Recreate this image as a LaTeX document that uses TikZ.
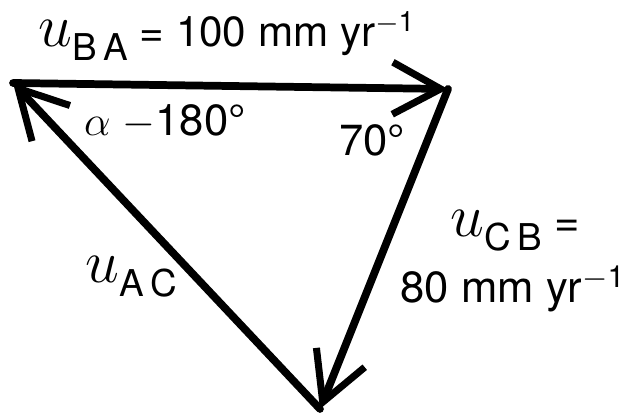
\documentclass[tikz,border=0pt]{standalone}
\usepackage{fontspec}
\setmainfont{TeX Gyre Heros}
\usetikzlibrary{arrows.meta}

\begin{document}
\begin{tikzpicture}[x=0.01cm, y=-0.01cm,
    vec/.style={-{Straight Barb[length=4.8mm, width=5.2mm, line width=2pt]},
                line width=2.2pt, line cap=round, line join=round},
    lbl/.style={font=\fontsize{12.4}{15}\selectfont, inner sep=0pt}]

    \useasboundingbox (0,0) rectangle (629,415);

    % corners of the velocity triangle
    \coordinate (A) at (13,83);
    \coordinate (B) at (448,89);
    \coordinate (C) at (320,409);

    \draw[vec] (A) -- (B);
    \draw[vec] (B) -- (C);
    \draw[vec] (C) -- (A);

    \node[lbl, anchor=base west, font=\fontsize{12}{15}\selectfont] (uba) at (38,47)
        {{\fontsize{16}{16}\selectfont$u$}\raisebox{-0.6ex}{\fontsize{10.5}{12}\selectfont B\,A} = 100 mm yr\textsuperscript{$-$1}};
    \node[lbl] (angA) at (165,122) {$\alpha$ $-$180°};
    \node[lbl] (angB) at (372,140) {70°};
    \node[lbl, anchor=base west] (ucb) at (450,237)
        {{\fontsize{16}{16}\selectfont$u$}\raisebox{-0.6ex}{\fontsize{10.5}{12}\selectfont C\,B} =};
    \node[lbl, anchor=base west] (vcb) at (400,303) {80 mm yr\textsuperscript{$-$1}};
    \node[lbl, anchor=base west] (uac) at (85,283)
        {{\fontsize{16}{16}\selectfont$u$}\raisebox{-0.6ex}{\fontsize{10.5}{12}\selectfont A\,C}};
\end{tikzpicture}
\end{document}
